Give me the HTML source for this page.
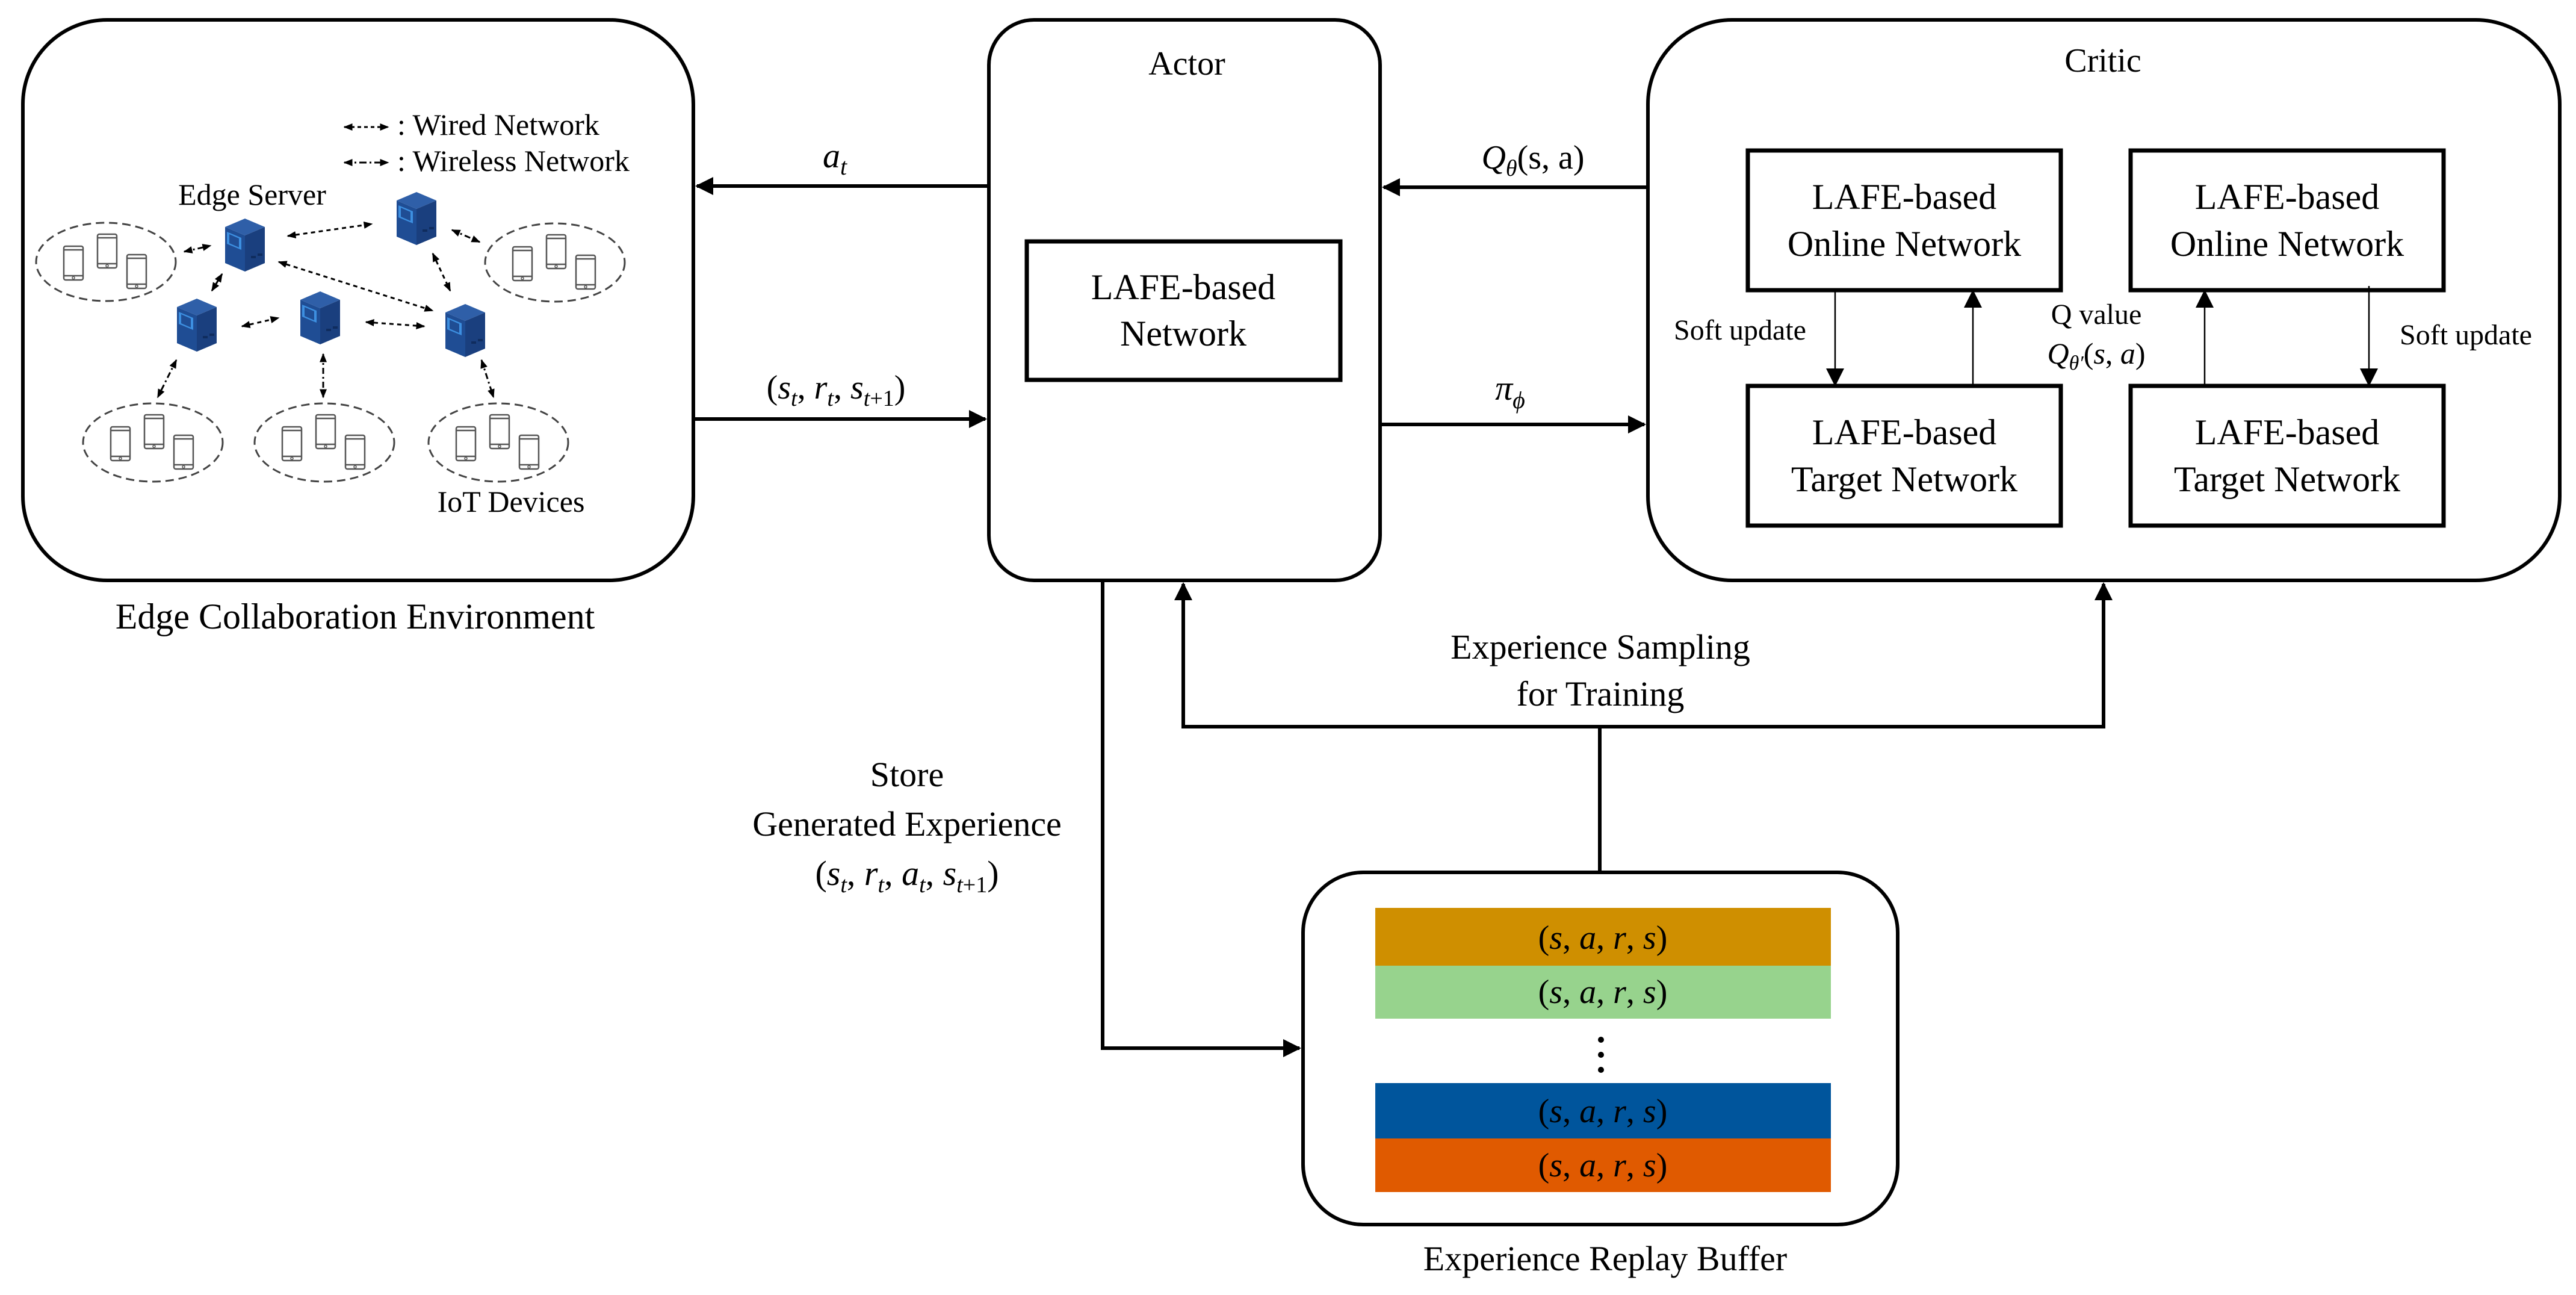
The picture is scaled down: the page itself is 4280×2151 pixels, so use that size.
<!DOCTYPE html>
<html><head><meta charset="utf-8"><style>
html,body{margin:0;padding:0;background:#fff}
svg{display:block}
svg, text, tspan{font-family:"Liberation Serif","DejaVu Serif","Noto Serif CJK SC",serif}
text{fill:#000}
.m{font-style:italic}
</style></head><body>
<svg width="4280" height="2151" viewBox="0 0 4280 2151" xmlns="http://www.w3.org/2000/svg" font-family="'Liberation Serif','DejaVu Serif',serif">
<defs>
<marker id="ah" viewBox="0 0 10 10" refX="9" refY="5" markerWidth="5" markerHeight="5" orient="auto" markerUnits="strokeWidth"><path d="M0,0 L10,5 L0,10 z" fill="#000"/></marker>
<marker id="ahs" viewBox="0 0 10 10" refX="9" refY="5" markerWidth="12" markerHeight="12" orient="auto" markerUnits="strokeWidth"><path d="M0,0 L10,5 L0,10 z" fill="#000"/></marker>
<marker id="sa" viewBox="0 0 10 10" refX="9" refY="5" markerWidth="5" markerHeight="5" orient="auto-start-reverse" markerUnits="strokeWidth"><path d="M0,1 L10,5 L0,9 z" fill="#000"/></marker>
<g id="srv">
<polygon points="-33,-30 0,-44 33,-30 0,-16" fill="#2f5fa8"/>
<polygon points="-33,-30 0,-16 0,44 -33,30" fill="#1f4d94"/>
<polygon points="0,-16 33,-30 33,30 0,44" fill="#1a3f7e"/>
<polygon points="-30,-22 -6,-12 -6,8 -30,-2" fill="#3d8fe0"/>
<polygon points="-26,-18 -10,-11 -10,4 -26,-3" fill="#1f4d94"/>
<rect x="10" y="18" width="8" height="4" fill="#0f2c5e"/><rect x="21" y="14" width="8" height="4" fill="#0f2c5e"/>
</g>
<g id="ph" fill="#fff" stroke="#555" stroke-width="2.5">
<rect x="-16" y="-28" width="32" height="56" rx="3"/>
<line x1="-16" y1="-22" x2="16" y2="-22"/><line x1="-16" y1="21" x2="16" y2="21"/>
<circle cx="0" cy="24.5" r="2" stroke-width="1.5"/>
</g>
<g id="cl">
<ellipse cx="0" cy="0" rx="116" ry="65" fill="none" stroke="#444" stroke-width="3" stroke-dasharray="14,8"/>
<use href="#ph" x="-54" y="2"/><use href="#ph" x="2" y="-18"/><use href="#ph" x="51" y="16"/>
</g>
</defs>

<rect x="38" y="33" width="1114" height="931" rx="140" fill="none" stroke="#000" stroke-width="6"/>
<text x="590" y="1044" font-size="60" text-anchor="middle">Edge Collaboration Environment</text>
<line x1="572" y1="211" x2="645" y2="211" stroke="#000" stroke-width="3" stroke-dasharray="6,5" marker-start="url(#sa)" marker-end="url(#sa)"/>
<text x="660" y="224" font-size="50">: Wired Network</text>
<line x1="572" y1="270" x2="645" y2="270" stroke="#000" stroke-width="3" stroke-dasharray="12,5,3,5" marker-start="url(#sa)" marker-end="url(#sa)"/>
<text x="660" y="284" font-size="50">: Wireless Network</text>
<text x="419" y="340" font-size="50" text-anchor="middle">Edge Server</text>
<text x="849" y="850" font-size="50" text-anchor="middle">IoT Devices</text>
<use href="#cl" x="176" y="435"/>
<use href="#cl" x="922" y="436"/>
<use href="#cl" x="254" y="735"/>
<use href="#cl" x="539" y="735"/>
<use href="#cl" x="828" y="735"/>
<g stroke="#000" stroke-width="3" fill="none">
<g stroke-dasharray="7,6">
<line x1="478" y1="392" x2="618" y2="372" marker-start="url(#sa)" marker-end="url(#sa)"/>
<line x1="463" y1="435" x2="719" y2="516" marker-start="url(#sa)" marker-end="url(#sa)"/>
<line x1="402" y1="542" x2="463" y2="528" marker-start="url(#sa)" marker-end="url(#sa)"/>
<line x1="608" y1="535" x2="705" y2="542" marker-start="url(#sa)" marker-end="url(#sa)"/>
<line x1="719" y1="421" x2="748" y2="483" marker-start="url(#sa)" marker-end="url(#sa)"/>
<line x1="369" y1="455" x2="352" y2="483" marker-start="url(#sa)" marker-end="url(#sa)"/>
</g>
<g stroke-dasharray="10,5,3,5">
<line x1="306" y1="418" x2="350" y2="408" marker-start="url(#sa)" marker-end="url(#sa)"/>
<line x1="751" y1="382" x2="797" y2="402" marker-start="url(#sa)" marker-end="url(#sa)"/>
<line x1="293" y1="598" x2="262" y2="660" marker-start="url(#sa)" marker-end="url(#sa)"/>
<line x1="537" y1="588" x2="537" y2="660" marker-start="url(#sa)" marker-end="url(#sa)"/>
<line x1="800" y1="598" x2="820" y2="660" marker-start="url(#sa)" marker-end="url(#sa)"/>
</g>
</g>
<use href="#srv" x="407" y="407"/>
<use href="#srv" x="692" y="363"/>
<use href="#srv" x="327" y="540"/>
<use href="#srv" x="532" y="528"/>
<use href="#srv" x="773" y="549"/>

<rect x="1643" y="33" width="650" height="931" rx="75" fill="none" stroke="#000" stroke-width="6"/>
<text x="1972" y="124" font-size="56" text-anchor="middle">Actor</text>
<rect x="1706" y="401" width="521" height="230" fill="none" stroke="#000" stroke-width="7"/>
<text x="1966" y="497" font-size="60" text-anchor="middle">LAFE-based</text>
<text x="1966" y="574" font-size="60" text-anchor="middle">Network</text>

<rect x="2738" y="33" width="1515" height="931" rx="140" fill="none" stroke="#000" stroke-width="6"/>
<text x="3494" y="119" font-size="56" text-anchor="middle">Critic</text>
<g fill="none" stroke="#000" stroke-width="7">
<rect x="2904" y="250" width="520" height="232"/>
<rect x="3540" y="250" width="520" height="232"/>
<rect x="2904" y="641" width="520" height="232"/>
<rect x="3540" y="641" width="520" height="232"/>
</g>
<g font-size="60" text-anchor="middle">
<text x="3164" y="347">LAFE-based</text><text x="3164" y="425">Online Network</text>
<text x="3800" y="347">LAFE-based</text><text x="3800" y="425">Online Network</text>
<text x="3164" y="738">LAFE-based</text><text x="3164" y="816">Target Network</text>
<text x="3800" y="738">LAFE-based</text><text x="3800" y="816">Target Network</text>
</g>
<g stroke="#000" stroke-width="2.5">
<line x1="3049" y1="483" x2="3049" y2="639" marker-end="url(#ahs)"/>
<line x1="3278" y1="641" x2="3278" y2="484" marker-end="url(#ahs)"/>
<line x1="3663" y1="641" x2="3663" y2="484" marker-end="url(#ahs)"/>
<line x1="3936" y1="475" x2="3936" y2="639" marker-end="url(#ahs)"/>
</g>
<text x="2891" y="564" font-size="48" text-anchor="middle">Soft update</text>
<text x="4097" y="572" font-size="48" text-anchor="middle">Soft update</text>
<text x="3483" y="538" font-size="48" text-anchor="middle">Q value</text>
<text x="3483" y="604" font-size="50" text-anchor="middle"><tspan class="m">Q</tspan><tspan class="m" font-size="34" dy="10">θ′</tspan><tspan dy="-10">(</tspan><tspan class="m">s</tspan>, <tspan class="m">a</tspan>)</text>

<g stroke="#000" stroke-width="6" fill="none">
<line x1="1643" y1="309" x2="1158" y2="309" marker-end="url(#ah)"/>
<line x1="1152" y1="696" x2="1637" y2="696" marker-end="url(#ah)"/>
<line x1="2738" y1="311" x2="2299" y2="311" marker-end="url(#ah)"/>
<line x1="2293" y1="705" x2="2732" y2="705" marker-end="url(#ah)"/>
<polyline points="1832,964 1832,1741 2159,1741" marker-end="url(#ah)"/>
<line x1="2658" y1="1449" x2="2658" y2="1207"/>
<polyline points="1966,1207 3495,1207"/>
<line x1="1966" y1="1210" x2="1966" y2="970" marker-end="url(#ah)"/>
<line x1="3495" y1="1210" x2="3495" y2="970" marker-end="url(#ah)"/>
</g>
<text x="1387" y="278" font-size="58" text-anchor="middle"><tspan class="m">a</tspan><tspan class="m" font-size="40" dy="12">t</tspan></text>
<text x="1389" y="662" font-size="56" text-anchor="middle">(<tspan class="m">s</tspan><tspan class="m" font-size="38" dy="12">t</tspan><tspan dy="-12">, </tspan><tspan class="m">r</tspan><tspan class="m" font-size="38" dy="12">t</tspan><tspan dy="-12">, </tspan><tspan class="m">s</tspan><tspan class="m" font-size="38" dy="12">t</tspan><tspan font-size="38">+1</tspan><tspan dy="-12">)</tspan></text>
<text x="2547" y="280" font-size="56" text-anchor="middle"><tspan class="m">Q</tspan><tspan class="m" font-size="38" dy="12">θ</tspan><tspan dy="-12">(s, a)</tspan></text>
<text x="2509" y="664" font-size="58" text-anchor="middle"><tspan class="m">π</tspan><tspan class="m" font-size="40" dy="14">ϕ</tspan></text>

<text x="2659" y="1094" font-size="58" text-anchor="middle">Experience Sampling</text>
<text x="2659" y="1172" font-size="58" text-anchor="middle">for Training</text>
<text x="1507" y="1306" font-size="58" text-anchor="middle">Store</text>
<text x="1507" y="1388" font-size="58" text-anchor="middle">Generated Experience</text>
<text x="1507" y="1470" font-size="58" text-anchor="middle">(<tspan class="m">s</tspan><tspan class="m" font-size="38" dy="12">t</tspan><tspan dy="-12">, </tspan><tspan class="m">r</tspan><tspan class="m" font-size="38" dy="12">t</tspan><tspan dy="-12">, </tspan><tspan class="m">a</tspan><tspan class="m" font-size="38" dy="12">t</tspan><tspan dy="-12">, </tspan><tspan class="m">s</tspan><tspan class="m" font-size="38" dy="12">t</tspan><tspan font-size="38">+1</tspan><tspan dy="-12">)</tspan></text>

<rect x="2165" y="1449" width="988" height="585" rx="100" fill="none" stroke="#000" stroke-width="6"/>
<rect x="2285" y="1508" width="757" height="96" fill="#cf8f00"/>
<rect x="2285" y="1604" width="757" height="88" fill="#97d38d"/>
<rect x="2285" y="1799" width="757" height="92" fill="#00559c"/>
<rect x="2285" y="1891" width="757" height="89" fill="#e05a00"/>
<g font-size="56" text-anchor="middle">
<text x="2663" y="1576">(<tspan class="m">s</tspan>, <tspan class="m">a</tspan>, <tspan class="m">r</tspan>, <tspan class="m">s</tspan>)</text>
<text x="2663" y="1666">(<tspan class="m">s</tspan>, <tspan class="m">a</tspan>, <tspan class="m">r</tspan>, <tspan class="m">s</tspan>)</text>
<text x="2663" y="1864">(<tspan class="m">s</tspan>, <tspan class="m">a</tspan>, <tspan class="m">r</tspan>, <tspan class="m">s</tspan>)</text>
<text x="2663" y="1954">(<tspan class="m">s</tspan>, <tspan class="m">a</tspan>, <tspan class="m">r</tspan>, <tspan class="m">s</tspan>)</text>
</g>
<circle cx="2660" cy="1727" r="5"/><circle cx="2660" cy="1752" r="5"/><circle cx="2660" cy="1777" r="5"/>
<text x="2667" y="2110" font-size="58" text-anchor="middle">Experience Replay Buffer</text>
</svg>
</body></html>
